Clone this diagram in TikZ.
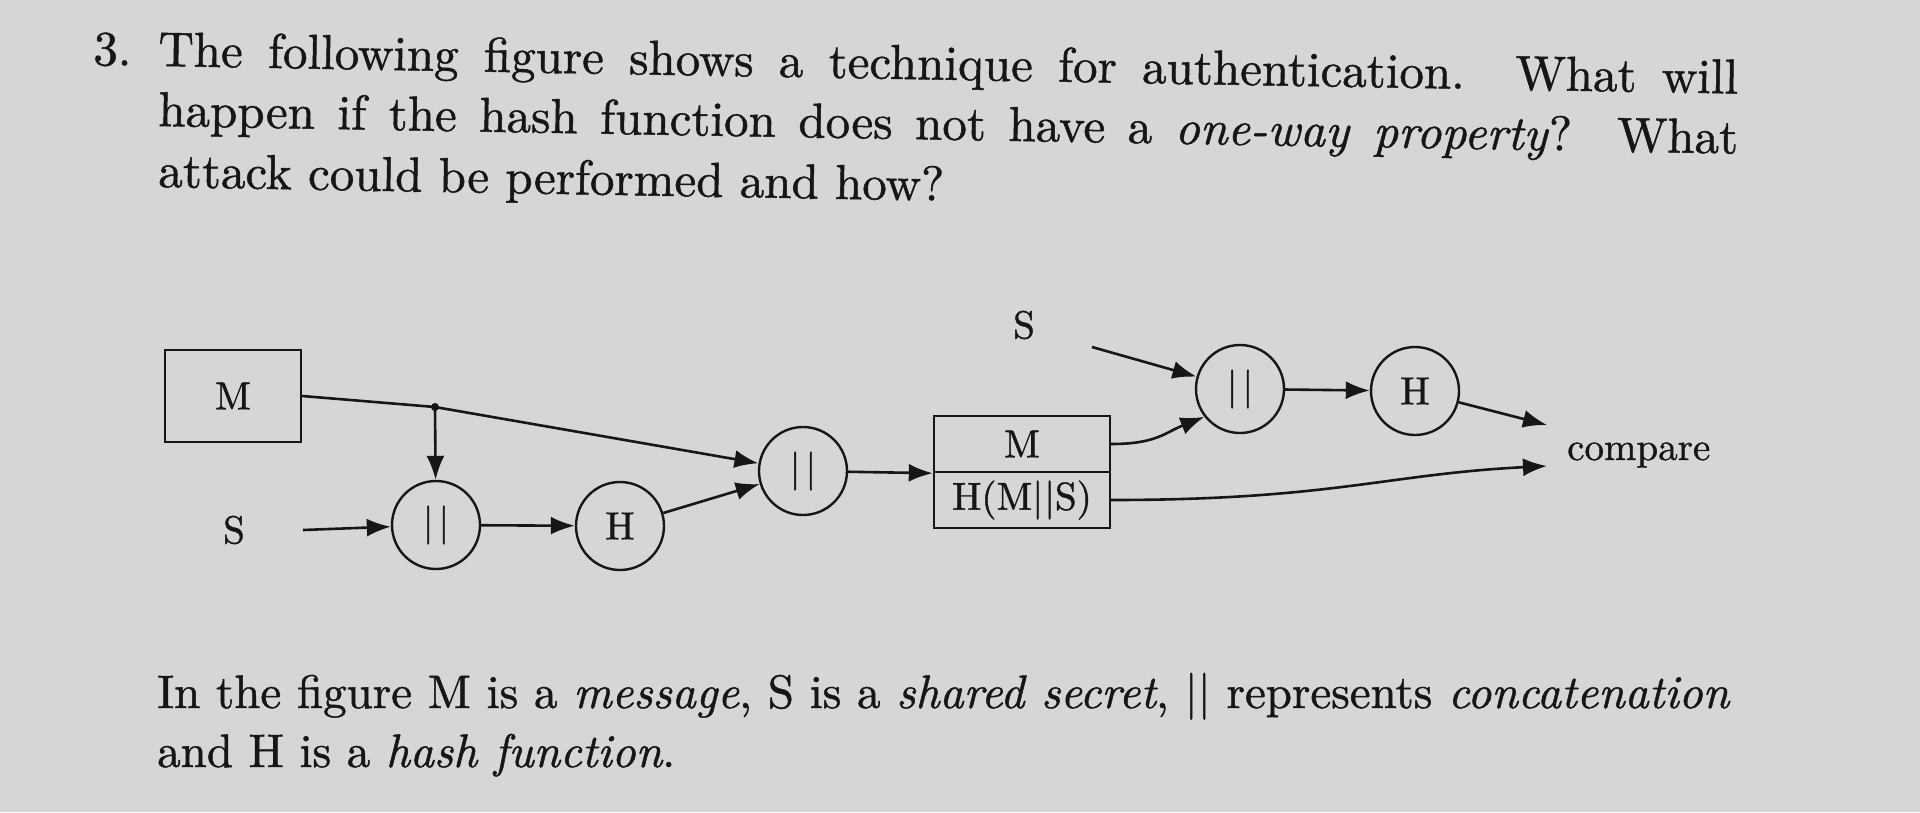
\documentclass[tikz,border=0pt]{standalone}
\usepackage{fontspec}
\setmainfont{lmroman10-regular.otf}[ItalicFont=lmroman10-italic.otf,BoldFont=lmroman10-bold.otf,FakeBold=1]
\usepackage{tikz}
\usetikzlibrary{arrows.meta}
\definecolor{paper}{RGB}{214,214,212}
\definecolor{ink}{RGB}{22,22,22}
\newcommand{\catbar}{|\kern5pt|}
\begin{document}
\begin{tikzpicture}[x=1pt,y=-1pt]
\tikzstyle{every node}+=[inner sep=0pt,text=ink]
\tikzstyle{line}=[draw=ink,line width=2.6pt]
\tikzstyle{arr}=[line,-{Latex[length=24pt,width=18pt]}]
\tikzstyle{op}=[circle,draw=ink,line width=2.4pt,minimum size=88pt,font=\fontsize{39}{42}\selectfont]
\tikzstyle{blk}=[rectangle,draw=ink,line width=2.4pt,font=\fontsize{39}{42}\selectfont]
\tikzstyle{lbl}=[font=\fontsize{39}{42}\selectfont]
\tikzstyle{para}=[anchor=base west,font=\fontsize{49}{58}\selectfont]
\tikzstyle{note}=[anchor=base west,font=\fontsize{47}{58}\selectfont]
\fill[paper] (0,0) rectangle (1920,812);
\useasboundingbox (0,0) rectangle (1920,812);
% question
\node[para,rotate=-1] (qnum) at (93,65) {3.};
\node[para,rotate=-1] (q1) at (158,66) {\makebox[1580pt][s]{The following figure shows a technique for authentication.\ \ What will}};
\node[para,rotate=-1] (q2) at (158,126) {\makebox[1580pt][s]{happen if the hash function does not have a \textit{one-way property}?\ \ What}};
\node[para,rotate=-1] (q3) at (158,187) {attack could be performed and how?};
% figure
\node[blk,minimum width=136pt,minimum height=92pt] (msg) at (233,396) {M};
\node[lbl] (sa) at (234,530) {S};
\coordinate (sa-out) at (303,530);
\coordinate (split) at (435,407);
\node[op] (cat1) at (436,525) {\catbar};
\node[op] (hash1) at (620,526) {H};
\node[op] (cat2) at (803,471) {\catbar};
\node[blk,minimum width=176pt,minimum height=56pt] (tm) at (1022,444) {M};
\node[blk,minimum width=176pt,minimum height=56pt] (th) at (1022,500) {H(M|\kern1pt|S)};
\node[lbl] (sb) at (1024,325) {S};
\coordinate (sb-out) at (1092,347);
\node[op] (cat3) at (1240,389) {\catbar};
\node[op] (hash3) at (1415,391) {H};
\coordinate (cmp1) at (1547,425);
\coordinate (cmp2) at (1547,466);
\node[lbl,anchor=base west] (cmp) at (1567,460) {compare};
\draw[arr] (msg.east) -- (split) -- (cat2);
\fill[ink] (split) circle (4);
\draw[arr] (split) -- (cat1);
\draw[arr] (sa-out) -- (cat1);
\draw[arr] (cat1) -- (hash1);
\draw[arr] (hash1) -- (cat2);
\draw[arr] (cat2) -- (tm.south west);
\draw[arr] (tm.east) .. controls +(45,0) and +(-40,16) .. (cat3.218);
\draw[arr] (th.east) .. controls +(220,0) and +(-160,8) .. (cmp2);
\draw[arr] (sb-out) -- (cat3);
\draw[arr] (cat3) -- (hash3);
\draw[arr] (hash3) -- (cmp1);
% legend
\node[note] (n1) at (157,708) {\makebox[1573pt][s]{In the figure M is a \textit{message}, S is a \textit{shared secret}, || represents \textit{concatenation}}};
\node[note] (n2) at (157,767) {and H is a \textit{hash function}.};
\end{tikzpicture}
\end{document}
